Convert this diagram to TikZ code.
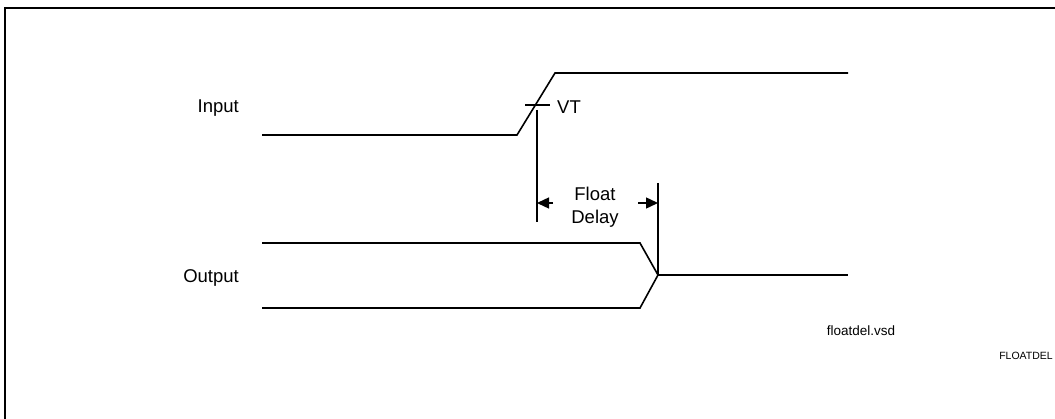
\documentclass[tikz,border=0pt]{standalone}
\usepackage{fontspec}
\setmainfont{Liberation Sans}
\usetikzlibrary{arrows.meta}
\begin{document}
\begin{tikzpicture}[x=1pt,y=-1pt,
  wave/.style={line width=1.6pt, line join=miter},
  dim/.style={line width=1.6pt},
  dimarrow/.style={line width=1.4pt, -{Triangle[length=12pt,width=11pt]}},
  lbl/.style={font=\fontsize{18.5}{23}\selectfont, inner sep=0pt},
  small/.style={font=\fontsize{13.5}{15}\selectfont, inner sep=0pt},
  tiny/.style={font=\fontsize{10.5}{12}\selectfont, inner sep=0pt}]
\useasboundingbox (0,0) rectangle (1055,419);
\fill[white] (0,0) rectangle (1055,419);
% frame (only left and top visible)
\draw[line width=2.6pt] (5,419) -- (5,8) -- (1055,8);
% Input waveform
\coordinate (i0) at (262,135);
\coordinate (i1) at (517,135);
\coordinate (i2) at (555,73);
\coordinate (i3) at (848,73);
\draw[wave] (i0) -- (i1) -- (i2) -- (i3);
% VT tick
\coordinate (vtl) at (525,105);
\coordinate (vtr) at (550,105);
\draw[dim] (vtl) -- (vtr);
\node[lbl, anchor=west] (vt) at (557,107) {VT};
% Output waveform
\coordinate (ou0) at (262,243);
\coordinate (ou1) at (640,243);
\coordinate (oj) at (658,275);
\coordinate (ol0) at (262,308);
\coordinate (ol1) at (640,308);
\coordinate (oe) at (848,275);
\draw[wave] (ou0) -- (ou1) -- (oj) -- (ol1) -- (ol0);
\draw[wave] (oj) -- (oe);
% dimension lines
\coordinate (d1t) at (537,110);
\coordinate (d1b) at (537,222);
\coordinate (d2t) at (658,183);
\draw[dim] (d1t) -- (d1b);
\draw[dim] (d2t) -- (oj);
\coordinate (a1s) at (553,203);
\coordinate (a1e) at (537,203);
\coordinate (a2s) at (638,203);
\coordinate (a2e) at (658,203);
\draw[dimarrow] (a1s) -- (a1e);
\draw[dimarrow] (a2s) -- (a2e);
\node[lbl, align=center] (fd) at (595,207) {Float\\Delay};
% labels
\node[lbl, anchor=east] (in) at (239,108) {Input};
\node[lbl, anchor=east] (out) at (239,278) {Output};
\node[small] (fn) at (861,331) {floatdel.vsd};
\node[tiny] (fl) at (1026,356) {FLOATDEL};
\end{tikzpicture}
\end{document}
